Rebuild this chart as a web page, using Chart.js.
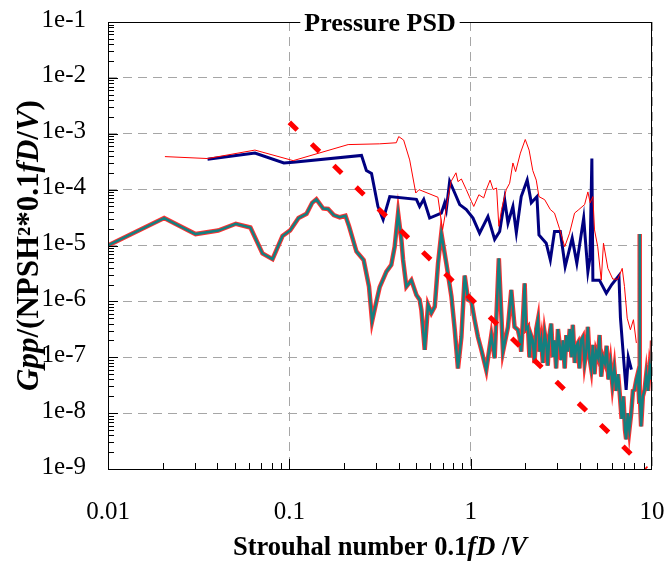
<!DOCTYPE html>
<html>
<head>
<meta charset="utf-8">
<script src="https://cdn.jsdelivr.net/npm/chart.js@4.4.0/dist/chart.umd.min.js"></script>
<style>
  html, body { margin: 0; padding: 0; background: #fff; }
  #wrap { width: 669px; height: 567px; }
</style>
</head>
<body>
<div id="wrap"><canvas id="psdChart" width="669" height="567"></canvas></div>
<script>
// axis ticks
const xTicks = [0.01, 0.1, 1, 10];
const xTickLabels = ['0.01', '0.1', '1', '10'];
const yTicks = [1e-9, 1e-8, 1e-7, 1e-6, 1e-5, 1e-4, 1e-3, 1e-2, 1e-1];
const yTickLabels = ['1e-9', '1e-8', '1e-7', '1e-6', '1e-5', '1e-4', '1e-3', '1e-2', '1e-1'];

// thin red curve
const topX = [0.0206, 0.0354, 0.0646, 0.105, 0.211, 0.315, 0.389, 0.401, 0.427, 0.461, 0.498, 0.519,
  0.66, 0.7, 0.75, 0.78, 0.83, 0.851, 0.889, 0.946, 1.009, 1.04, 1.11, 1.18, 1.22, 1.28, 1.33, 1.39,
  1.43, 1.48, 1.57, 1.64, 1.71, 1.77, 1.88, 2.0, 2.1, 2.2, 2.3, 2.38, 2.56, 2.75, 2.9, 3.09, 3.3,
  3.51, 3.74, 3.95, 4.25, 4.43, 4.56, 4.72, 4.82, 5.02, 5.25, 5.4, 5.71, 6.08, 6.48, 6.85, 7.05,
  7.3, 7.6, 7.9, 8.2];
const topY = [3.9e-4, 3.6e-4, 5.1e-4, 3.3e-4, 6.4e-4, 6.6e-4, 6.9e-4, 8.9e-4, 7.7e-4, 3.4e-4, 8.7e-5, 1e-4,
  7.3e-5, 1.9e-5, 7.1e-5, 1.4e-4, 2e-4, 1.39e-4, 1.55e-4, 1e-4, 6.2e-5, 5e-5, 8.1e-5, 7.1e-5, 1e-4, 1.48e-4, 1e-4, 1.07e-4,
  2.2e-5, 4.4e-5, 1e-4, 1.3e-4, 3e-4, 2.1e-4, 4.5e-4, 7.9e-4, 5.1e-4, 2.2e-4, 1.48e-4, 7.5e-5, 6.6e-5, 4.4e-5, 3.8e-5, 2e-5, 9.5e-6,
  1.66e-5, 3.8e-5, 4.4e-5, 5.4e-5, 9.1e-5, 5.8e-5, 7.5e-5, 1.9e-5, 9.5e-6, 2.4e-6, 1.1e-5, 3.9e-6, 2.5e-6, 2.5e-6, 3.9e-6, 1.84e-6,
  5e-7, 3.1e-7, 4.7e-7, 1.8e-7];

// navy curve
const midX = [0.0354, 0.0646, 0.0933, 0.105, 0.25, 0.266, 0.284, 0.308, 0.329, 0.358, 0.502, 0.523, 0.551,
  0.594, 0.689, 0.719, 0.734, 0.766, 0.817, 0.87, 0.946, 1.03, 1.12, 1.245, 1.356, 1.445, 1.54, 1.606,
  1.71, 1.786, 1.9, 2.05, 2.16, 2.32, 2.38, 2.61, 2.75, 2.9, 3.12, 3.32, 3.63, 3.85, 4.2, 4.43, 4.55,
  4.66, 4.72, 5.13, 5.6, 6.0, 6.57, 6.7, 7.0, 7.2, 7.4, 7.7];
const midY = [3.5e-4, 4.5e-4, 3.0e-4, 3.1e-4, 4.1e-4, 2.2e-4, 1.95e-4, 5e-5, 2.9e-5, 7.5e-5, 6.7e-5, 5e-5, 6.7e-5,
  3.1e-5, 3.8e-5, 5.8e-5, 4.4e-5, 1.4e-4, 8.7e-5, 5.4e-5, 4.4e-5, 3.1e-5, 1.66e-5, 3.3e-5, 1.29e-5, 1.78e-5, 6.6e-5, 2.5e-5,
  5e-5, 1.7e-5, 7.5e-5, 1.48e-4, 5.8e-5, 7.5e-5, 1.55e-5, 1.1e-5, 5.5e-6, 1.78e-5, 1.78e-5, 4.2e-6, 1.35e-5, 4.8e-6, 3.1e-5, 3.4e-6, 6e-6,
  3.6e-4, 2.4e-6, 2.4e-6, 1.4e-6, 2.0e-6, 2.9e-6, 5e-7, 8e-8, 2.6e-8, 1e-7, 6e-8];

// teal curve (drawn with red edge)
const lowX = [0.01, 0.0204, 0.0304, 0.0405, 0.0507, 0.061, 0.0711, 0.0808, 0.0917, 0.101, 0.1124, 0.1244,
  0.1336, 0.141, 0.1536, 0.1636, 0.1758, 0.1897, 0.204, 0.2136, 0.2345, 0.257, 0.275, 0.286, 0.3, 0.315,
  0.343, 0.365, 0.381, 0.398, 0.415, 0.424, 0.442, 0.471, 0.502, 0.523, 0.535, 0.558, 0.582, 0.607, 0.634,
  0.661, 0.689, 0.734, 0.783, 0.817, 0.851, 0.889, 0.927, 0.967, 1.009, 1.052, 1.097, 1.145, 1.219, 1.3,
  1.356, 1.43, 1.507, 1.606, 1.675, 1.746, 1.82, 1.86, 1.9, 1.95, 1.985, 2.02, 2.07, 2.11, 2.15, 2.2, 2.25,
  2.3, 2.35, 2.4, 2.45, 2.5, 2.56, 2.61, 2.66, 2.72, 2.78, 2.84, 2.9, 2.96, 3.03, 3.1, 3.16, 3.23, 3.3,
  3.37, 3.44, 3.52, 3.6, 3.66, 3.75, 3.82, 3.9, 3.98, 4.06, 4.16, 4.25, 4.34, 4.43, 4.52, 4.62, 4.72,
  4.82, 4.92, 5.03, 5.14, 5.25, 5.37, 5.5, 5.62, 5.75, 5.9, 6.05, 6.2, 6.35, 6.5, 6.62, 6.8, 6.95, 7.1,
  7.2, 7.35, 7.5, 7.68, 7.85, 8.0, 8.2, 8.36, 8.5, 8.53, 8.58, 8.71, 8.9, 9.1, 9.3, 9.5, 9.7, 9.9, 10];
const lowY = [1.0e-5, 3.1e-5, 1.6e-5, 1.85e-5, 2.45e-5, 2.1e-5, 7.2e-6, 5.7e-6, 1.48e-5, 1.86e-5, 3.1e-5, 3.7e-5,
  5.8e-5, 6.7e-5, 4.6e-5, 4.5e-5, 3.5e-5, 3.2e-5, 3.4e-5, 2.2e-5, 7.8e-6, 5.5e-6, 1.84e-6, 4.4e-7, 9e-7, 1.8e-6,
  3.4e-6, 4.5e-6, 9.5e-6, 3.8e-5, 1.26e-5, 5.5e-6, 1.84e-6, 2.4e-6, 1.3e-6, 1.07e-6, 7e-7, 1.36e-7, 8.7e-7, 6.2e-7, 8.1e-7,
  4.8e-6, 1.66e-5, 4.8e-6, 1.23e-6, 3.1e-7, 6.3e-8, 2.3e-7, 2.9e-6, 1.07e-6, 1e-6, 4.6e-7, 2.3e-7, 1.36e-7, 5.9e-8, 2.5e-7,
  9.6e-8, 5.9e-6, 1.26e-7, 3.5e-7, 1.6e-6, 3.5e-7, 3.1e-7, 2.3e-7, 1.26e-7, 6.3e-7, 2.1e-6, 3.2e-7, 3.5e-7, 1.0e-7, 2.5e-7, 2.0e-7, 7.9e-8,
  3.2e-7, 4.7e-7, 1.26e-7, 2.0e-7, 7.9e-8, 2.7e-7, 1.8e-7, 7.1e-8, 2.5e-7, 4.0e-7, 1.0e-7, 2.0e-7, 6.3e-8, 3.2e-7, 1.6e-7, 8.9e-8, 2.0e-7, 6.3e-8,
  2.5e-7, 1.26e-7, 3.2e-7, 1.0e-7, 3.8e-7, 7.9e-8, 1.6e-7, 1.8e-7, 6.3e-8, 2.0e-7, 2.3e-7, 7.9e-8, 1.26e-7, 3.5e-7, 1.0e-7, 6.3e-8, 1.66e-7,
  5.0e-8, 1.26e-7, 1.0e-7, 2.5e-7, 4.5e-8, 1.0e-7, 7.9e-8, 1.6e-7, 4.0e-8, 7.9e-8, 3.2e-8, 6.3e-8, 2.5e-8, 5.0e-8, 2.5e-8, 7.9e-9, 2.0e-8, 5.0e-9,
  3.4e-9, 1.0e-8, 5.0e-9, 1.0e-8, 2.5e-8, 2.6e-8, 4.0e-8, 5.2e-8, 1.6e-8, 1.6e-5, 2.5e-8, 5.8e-9, 2.0e-8, 2.6e-8, 5.0e-8, 2.5e-8, 6.3e-8, 4.0e-8, 2.0e-7];

// dashed reference slope
const slopeX = [0.1, 9.3];
const slopeY = [1.6e-3, 1e-9];

const pts = (xs, ys) => xs.map((v, i) => ({ x: v, y: ys[i] }));
const serif = '"Liberation Serif", "Times New Roman", serif';

function drawRich(ctx, parts, cx, cy, size) {
  const fontFor = p => (p.i ? 'italic ' : '') + 'bold ' + size + 'px ' + serif;
  let total = 0;
  parts.forEach(p => { ctx.font = fontFor(p); total += ctx.measureText(p.t).width; });
  let pos = cx - total / 2;
  ctx.textAlign = 'left';
  ctx.textBaseline = 'middle';
  parts.forEach(p => {
    ctx.font = fontFor(p);
    ctx.fillText(p.t, pos, cy);
    pos += ctx.measureText(p.t).width;
  });
}

const frame = {
  id: 'frame',
  afterDraw(chart) {
    const { ctx, chartArea: a, scales: { x, y } } = chart;
    ctx.save();
    ctx.strokeStyle = '#000';
    ctx.lineWidth = 1;
    ctx.strokeRect(a.left + 0.5, a.top + 0.5, a.right - a.left - 1, a.bottom - a.top);

    // minor / major ticks on bottom and left axes
    ctx.beginPath();
    for (let d = -2; d <= 0; d++) {
      for (let k = 1; k <= 9; k++) {
        const px = Math.round(x.getPixelForValue(k * Math.pow(10, d))) + 0.5;
        const len = k === 1 ? 10 : 6;
        ctx.moveTo(px, a.bottom);
        ctx.lineTo(px, a.bottom - len);
      }
    }
    for (let d = -9; d <= -2; d++) {
      for (let k = 1; k <= 9; k++) {
        const py = Math.round(y.getPixelForValue(k * Math.pow(10, d))) + 0.5;
        const len = k === 1 ? 10 : 6;
        ctx.moveTo(a.left, py);
        ctx.lineTo(a.left + len, py);
      }
    }
    ctx.stroke();

    // tick labels
    ctx.fillStyle = '#000';
    ctx.font = '25px ' + serif;
    ctx.textBaseline = 'middle';
    ctx.textAlign = 'center';
    xTicks.forEach((v, i) => ctx.fillText(xTickLabels[i], x.getPixelForValue(v), a.bottom + 43));
    ctx.textAlign = 'right';
    yTicks.forEach((v, i) => ctx.fillText(yTickLabels[i], a.left - 22, y.getPixelForValue(v) - 2));

    // title sitting on the top border
    ctx.font = 'bold 26px ' + serif;
    const title = 'Pressure PSD';
    const tw = ctx.measureText(title).width;
    const cx = (a.left + a.right) / 2;
    ctx.fillStyle = '#fff';
    ctx.fillRect(cx - tw / 2 - 4, a.top - 14, tw + 8, 28);
    ctx.fillStyle = '#000';
    ctx.textAlign = 'center';
    ctx.fillText(title, cx, a.top + 2);

    // x axis title
    drawRich(ctx, [
      { t: 'Strouhal number 0.1' },
      { t: 'fD', i: true },
      { t: ' /' },
      { t: 'V', i: true }
    ], cx, 548, 26.5);

    // y axis title
    ctx.translate(30, (a.top + a.bottom) / 2);
    ctx.rotate(-Math.PI / 2);
    drawRich(ctx, [
      { t: 'Gpp', i: true },
      { t: '/(NPSH\u00B2*0.1' },
      { t: 'fD', i: true },
      { t: '/' },
      { t: 'V', i: true },
      { t: ')' }
    ], 0, 0, 31);
    ctx.restore();
  }
};

const gridOpts = { color: '#a6a6a6', lineWidth: 1, drawTicks: false };

new Chart(document.getElementById('psdChart'), {
  type: 'line',
  data: {
    datasets: [
      { data: pts(slopeX, slopeY), borderColor: '#ff0000', borderWidth: 5, borderDash: [11, 20], borderCapStyle: 'butt', order: 0 },
      { data: pts(topX, topY), borderColor: '#ff0000', borderWidth: 1, order: 1 },
      { data: pts(midX, midY), borderColor: '#000080', borderWidth: 3, order: 2 },
      { data: pts(lowX, lowY), borderColor: '#138080', borderWidth: 2.5, order: 3 },
      { data: pts(lowX, lowY), borderColor: '#ff3030', borderWidth: 4.5, order: 4 }
    ]
  },
  options: {
    responsive: false,
    animation: false,
    devicePixelRatio: 1,
    layout: { padding: { top: 22, right: 17, left: 0, bottom: 0 } },
    elements: { point: { radius: 0 }, line: { tension: 0, fill: false } },
    plugins: { legend: { display: false }, tooltip: { enabled: false } },
    scales: {
      x: {
        type: 'logarithmic', min: 0.01, max: 10,
        afterBuildTicks: s => { s.ticks = xTicks.map(v => ({ value: v })); },
        afterFit: s => { s.height = 98; },
        ticks: { display: false },
        grid: gridOpts,
        border: { display: false, dash: [9, 6] }
      },
      y: {
        type: 'logarithmic', min: 1e-9, max: 1e-1,
        afterBuildTicks: s => { s.ticks = yTicks.map(v => ({ value: v })); },
        afterFit: s => { s.width = 108; },
        ticks: { display: false },
        grid: gridOpts,
        border: { display: false, dash: [9, 6] }
      }
    }
  },
  plugins: [frame]
});
</script>
</body>
</html>
